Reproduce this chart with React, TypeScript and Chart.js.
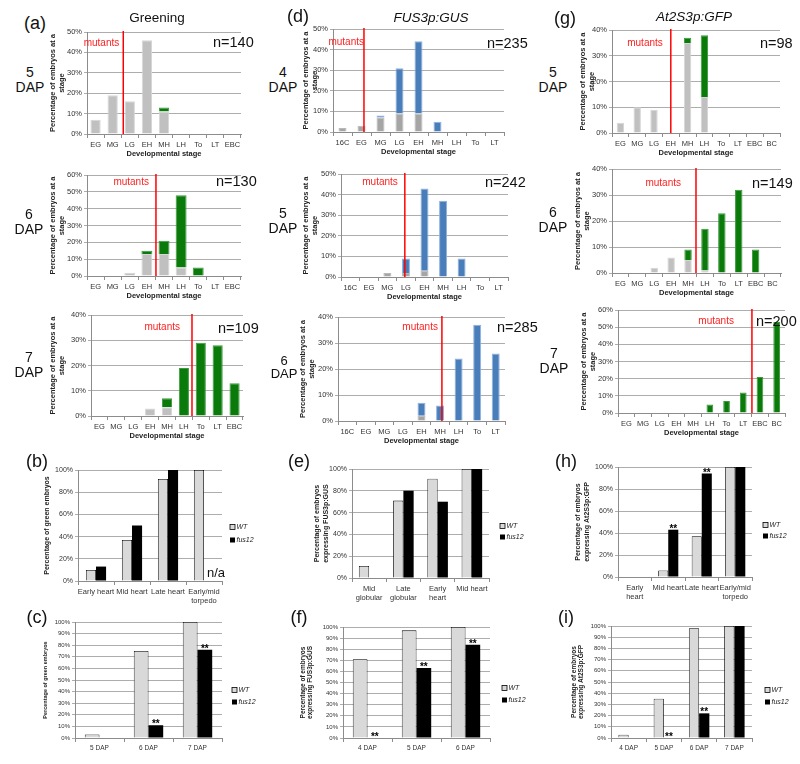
import React, { useEffect, useRef } from 'react';
import { Chart, registerables } from 'chart.js';
Chart.register(...registerables);

const FONT = "'Liberation Sans', Arial, Helvetica, sans-serif";

// ---------- categories ----------
const STAGES_A = ['EG', 'MG', 'LG', 'EH', 'MH', 'LH', 'To', 'LT', 'EBC'];
const STAGES_D = ['16C', 'EG', 'MG', 'LG', 'EH', 'MH', 'LH', 'To', 'LT'];
const STAGES_G = ['EG', 'MG', 'LG', 'EH', 'MH', 'LH', 'To', 'LT', 'EBC', 'BC'];

// ---------- (a) Greening ----------
const A5_GRAY = [7, 19, 16, 46, 11, 0, 0, 0, 0];
const A5_GREEN = [0, 0, 0, 0, 2, 0, 0, 0, 0];
const A6_GRAY = [0, 0, 2, 13, 13, 5, 0, 0, 0];
const A6_GREEN = [0, 0, 0, 2, 8, 43, 5, 0, 0];
const A7_GRAY = [0, 0, 0, 3, 3.5, 0, 0, 0, 0];
const A7_GREEN = [0, 0, 0, 0, 3.5, 19, 29, 28, 13];

// ---------- (d) FUS3p:GUS ----------
const D4_GRAY = [2, 3, 7, 9, 9, 0, 0, 0, 0];
const D4_BLUE = [0, 0, 1, 22, 35, 5, 0, 0, 0];
const D5_GRAY = [0, 0, 2, 2, 3, 0, 0, 0, 0];
const D5_BLUE = [0, 0, 0, 7, 40, 37, 9, 0, 0];
const D6_GRAY = [0, 0, 0, 0, 2, 0, 0, 0, 0];
const D6_BLUE = [0, 0, 0, 0, 5, 6, 24, 37, 26];

// ---------- (g) At2S3p:GFP ----------
const G5_GRAY = [4, 10, 9, 0, 35, 14, 0, 0, 0, 0];
const G5_GREEN = [0, 0, 0, 0, 2, 24, 0, 0, 0, 0];
const G6_GRAY = [0, 0, 2, 6, 5, 1, 0, 0, 0, 0];
const G6_GREEN = [0, 0, 0, 0, 4, 16, 23, 32, 9, 0];
const G7_GRAY = [0, 0, 0, 0, 0, 0, 0, 0, 0, 0];
const G7_GREEN = [0, 0, 0, 0, 0, 5, 7, 12, 21, 53];

// ---------- (b) (e) (h) ----------
const B_CATS: (string | string[])[] = ['Early heart', 'Mid heart', 'Late heart', ['Early/mid', 'torpedo']];
const B_WT = [10, 37, 92, 100];
const B_FUS = [13, 50, 100, null];
const E_CATS: (string | string[])[] = [['Mid', 'globular'], ['Late', 'globular'], ['Early', 'heart'], 'Mid heart'];
const E_WT = [11, 71, 91, 100];
const E_FUS = [0, 80, 70, 100];
const H_CATS: (string | string[])[] = [['Early', 'heart'], 'Mid heart', 'Late heart', ['Early/mid', 'torpedo']];
const H_WT = [0, 6, 37, 100];
const H_FUS = [0, 43, 94, 100];

// ---------- (c) (f) (i) ----------
const C_CATS = ['5 DAP', '6 DAP', '7 DAP'];
const C_WT = [3, 75, 100];
const C_FUS = [0, 11, 76];
const F_CATS = ['4 DAP', '5 DAP', '6 DAP'];
const F_WT = [71, 97, 100];
const F_FUS = [0, 63, 84];
const I_CATS = ['4 DAP', '5 DAP', '6 DAP', '7 DAP'];
const I_WT = [3, 35, 98, 100];
const I_FUS = [0, 0, 22, 100];

const SERIES_WT = 'WT';
const SERIES_FUS = 'fus12';
const MUTANT_LABEL = 'mutants';
const X_TITLE = 'Developmental stage';
const Y_TITLE_STAGE = ['Percentage of embryos at a', 'stage'];

const GRAY = '#C0C0C0';
const GRAY_D = '#A5A5A5';
const GREEN = '#0A7A0A';
const BLUE = '#4A7EBB';

type Spec = {
  kind: 'stacked' | 'grouped';
  area: [number, number, number, number];
  yW: number;
  xH: number;
  cats: (string | string[])[];
  a: (number | null)[];
  b: (number | null)[];
  colA: string;
  colB: string;
  bordA: string;
  bordB: string;
  max: number;
  bp: number;
  cp: number;
  mut?: [number, number, number];
  yTitle: string | string[];
  yTitleSize: number;
  yTickSize: number;
  xTickSize: number;
  legend?: [number, number, number];
  stars?: [number, number][];
};

const stacked = (
  area: [number, number, number, number], yW: number, cats: string[], a: number[], b: number[],
  colB: string, max: number, bp: number, mut: [number, number, number], colA = GRAY
): Spec => ({
  kind: 'stacked', area, yW, xH: 24, cats, a, b, colA, colB,
  bordA: colA === GRAY ? '#D6D6D6' : '#B8B8B8',
  bordB: colB === BLUE ? '#8FB3DE' : '#3C9A3C',
  max, bp, cp: 1, mut, yTitle: Y_TITLE_STAGE, yTitleSize: 7.5, yTickSize: 7.5, xTickSize: 7.5,
});

const grouped = (
  area: [number, number, number, number], yW: number, xH: number, cats: (string | string[])[],
  a: (number | null)[], b: (number | null)[], cp: number, yTitle: string | string[], yTitleSize: number,
  yTickSize: number, xTickSize: number, legend: [number, number, number], stars?: [number, number][]
): Spec => ({
  kind: 'grouped', area, yW, xH, cats, a, b, colA: '#D9D9D9', colB: '#000000', bordA: '#000000', bordB: '#000000',
  max: 100, bp: 1, cp, yTitle, yTitleSize, yTickSize, xTickSize, legend, stars,
});

const SPECS: Spec[] = [
  stacked([87, 32, 241, 134], 39, STAGES_A, A5_GRAY, A5_GREEN, GREEN, 50, 0.6, [1.62, 4, 11]),
  stacked([87, 175, 241, 276], 39, STAGES_A, A6_GRAY, A6_GREEN, GREEN, 60, 0.64, [3.53, 7, 7]),
  stacked([91, 315, 243, 416], 43, STAGES_A, A7_GRAY, A7_GREEN, GREEN, 40, 0.6, [5.48, 12, 12]),
  stacked([333, 29, 504, 132], 32, STAGES_D, D4_GRAY, D4_BLUE, BLUE, 50, 0.42, [1.13, 0, 13], GRAY_D),
  stacked([341, 174, 508, 277], 40, STAGES_D, D5_GRAY, D5_BLUE, BLUE, 50, 0.43, [2.94, 7, 8], GRAY_D),
  stacked([338, 317, 505, 421], 40, STAGES_D, D6_GRAY, D6_BLUE, BLUE, 40, 0.43, [5.1, 4, 10], GRAY_D),
  stacked([612, 30, 780, 133], 34, STAGES_G, G5_GRAY, G5_GREEN, GREEN, 40, 0.44, [3.0, 8, 13]),
  stacked([612, 169, 781, 273], 39, STAGES_G, G6_GRAY, G6_GREEN, GREEN, 40, 0.44, [4.47, 15, 14]),
  stacked([618, 310, 785, 413], 39, STAGES_G, G7_GRAY, G7_GREEN, GREEN, 60, 0.4, [7.52, 18, 11]),
  grouped([78, 470, 222, 581], 35, 26, B_CATS, B_WT, B_FUS, 0.56, 'Percentage of green embryos', 7, 7, 7.5, [230, 527, 13]),
  grouped([352, 469, 489, 578], 39, 26, E_CATS, E_WT, E_FUS, 0.6, ['Percentage of embryos', 'expressing FUS3p:GUS'], 7, 7, 7.5, [500, 526, 11]),
  grouped([618, 467, 752, 577], 44, 26, H_CATS, H_WT, H_FUS, 0.6, ['Percentage of embryos', 'expressing At2S3p:GFP'], 7, 7, 7.5, [763, 525, 11], [[1, 1], [1, 2]]),
  grouped([75, 622, 222, 738], 33, 18, C_CATS, C_WT, C_FUS, 0.6, 'Percentage of green embryos', 5.5, 6, 6.5, [232, 690, 12], [[1, 1], [1, 2]]),
  grouped([343, 627, 490, 738], 44, 18, F_CATS, F_WT, F_FUS, 0.6, ['Percentage of embryos', 'expressing FUS3p:GUS'], 6.5, 6, 6.5, [502, 688, 12], [[1, 0], [1, 1], [1, 2]]),
  grouped([611, 626, 752, 738], 41, 18, I_CATS, I_WT, I_FUS, 0.58, ['Percentage of embryos', 'expressing At2S3p:GFP'], 6.5, 6, 6.5, [765, 690, 12], [[1, 1], [1, 2]]),
];

type Txt = { t: string; x: number; y: number; s: number; it?: boolean; left?: boolean; lh?: number };
const TEXTS: Txt[] = [
  { t: '(a)', x: 35, y: 23, s: 18 },
  { t: 'Greening', x: 157, y: 18, s: 13.5 },
  { t: '(d)', x: 298, y: 16, s: 18 },
  { t: 'FUS3p:GUS', x: 431, y: 18, s: 13.5, it: true },
  { t: '(g)', x: 565, y: 18, s: 18 },
  { t: 'At2S3p:GFP', x: 694, y: 17, s: 13.5, it: true },
  { t: '5\nDAP', x: 30, y: 80, s: 14, lh: 15 },
  { t: '6\nDAP', x: 29, y: 222, s: 14, lh: 15 },
  { t: '7\nDAP', x: 29, y: 365, s: 14, lh: 15 },
  { t: '4\nDAP', x: 283, y: 80, s: 14, lh: 15 },
  { t: '5\nDAP', x: 283, y: 221, s: 14, lh: 15 },
  { t: '6\nDAP', x: 284, y: 367, s: 13, lh: 13 },
  { t: '5\nDAP', x: 553, y: 80, s: 14, lh: 15 },
  { t: '6\nDAP', x: 553, y: 220, s: 14, lh: 15 },
  { t: '7\nDAP', x: 554, y: 361, s: 14, lh: 15 },
  { t: 'n=140', x: 213, y: 42, s: 14.5, left: true },
  { t: 'n=130', x: 216, y: 181, s: 14.5, left: true },
  { t: 'n=109', x: 218, y: 328, s: 14.5, left: true },
  { t: 'n=235', x: 487, y: 43, s: 14.5, left: true },
  { t: 'n=242', x: 485, y: 182, s: 14.5, left: true },
  { t: 'n=285', x: 497, y: 327, s: 14.5, left: true },
  { t: 'n=98', x: 760, y: 43, s: 14.5, left: true },
  { t: 'n=149', x: 752, y: 183, s: 14.5, left: true },
  { t: 'n=200', x: 756, y: 321, s: 14.5, left: true },
  { t: '(b)', x: 37, y: 461, s: 18 },
  { t: '(e)', x: 299, y: 461, s: 18 },
  { t: '(h)', x: 566, y: 461, s: 18 },
  { t: '(c)', x: 37, y: 617, s: 18 },
  { t: '(f)', x: 299, y: 617, s: 18 },
  { t: '(i)', x: 566, y: 617, s: 18 },
  { t: 'n/a', x: 216, y: 573, s: 13 },
];

function ChartBox({ spec }: { spec: Spec }) {
  const ref = useRef<HTMLCanvasElement>(null);
  const [l, t, r, b] = spec.area;
  const x0 = l - spec.yW - 2;
  const y0 = t - 16;
  const rightExtra = spec.kind === 'stacked' ? 14 : 46;
  const w = r - x0 + rightExtra;
  const h = b - y0 + spec.xH + 2;

  useEffect(() => {
    const decor = {
      id: 'decor',
      afterDatasetsDraw(chart: any) {
        const ctx = chart.ctx;
        const ca = chart.chartArea;
        ctx.save();
        if (spec.mut) {
          const [at, dx, ty] = spec.mut;
          const x = chart.scales.x.getPixelForValue(at);
          ctx.strokeStyle = '#FF0000';
          ctx.lineWidth = 1.5;
          ctx.beginPath();
          ctx.moveTo(x, ca.top - 1);
          ctx.lineTo(x, ca.bottom);
          ctx.stroke();
          ctx.fillStyle = '#FF1F1F';
          ctx.font = `10px ${FONT}`;
          ctx.textAlign = 'right';
          ctx.textBaseline = 'middle';
          ctx.fillText(MUTANT_LABEL, x - dx, ca.top + ty);
        }
        if (spec.stars) {
          ctx.fillStyle = '#000';
          ctx.font = `bold 10px ${FONT}`;
          ctx.textAlign = 'center';
          ctx.textBaseline = 'alphabetic';
          for (const [d, i] of spec.stars) {
            const el = chart.getDatasetMeta(d).data[i];
            if (el) ctx.fillText('**', el.x, el.y + 2);
          }
        }
        if (spec.legend) {
          const [lx, ly, gap] = spec.legend;
          const x = lx - x0;
          const y = ly - y0;
          const ds = chart.data.datasets;
          ctx.lineWidth = 0.8;
          ctx.fillStyle = '#D9D9D9';
          ctx.fillRect(x, y - 2.5, 5, 5);
          ctx.strokeStyle = '#000';
          ctx.strokeRect(x, y - 2.5, 5, 5);
          ctx.fillStyle = '#000';
          ctx.fillRect(x, y + gap - 2.5, 5, 5);
          ctx.fillStyle = '#222';
          ctx.font = `italic 7px ${FONT}`;
          ctx.textAlign = 'left';
          ctx.textBaseline = 'middle';
          ctx.fillText(ds[0].label, x + 6.5, y);
          ctx.fillText(ds[1].label, x + 6.5, y + gap);
        }
        ctx.restore();
      },
    };

    const isStacked = spec.kind === 'stacked';
    const chart = new Chart(ref.current as HTMLCanvasElement, {
      type: 'bar',
      data: {
        labels: spec.cats as any,
        datasets: [
          {
            label: isStacked ? 'lower' : SERIES_WT,
            data: spec.a as any,
            backgroundColor: spec.colA,
            borderColor: spec.bordA,
            borderWidth: isStacked ? 1 : 0.8,
            barPercentage: spec.bp,
            categoryPercentage: spec.cp,
          },
          {
            label: isStacked ? 'upper' : SERIES_FUS,
            data: spec.b as any,
            backgroundColor: spec.colB,
            borderColor: spec.bordB,
            borderWidth: isStacked ? 1 : 0,
            barPercentage: spec.bp,
            categoryPercentage: spec.cp,
          },
        ],
      },
      options: {
        responsive: false,
        animation: false,
        events: [],
        layout: {
          autoPadding: false,
          padding: { left: 2, top: 16, right: rightExtra, bottom: 2 },
        } as any,
        plugins: { legend: { display: false }, tooltip: { enabled: false } },
        scales: {
          x: {
            stacked: isStacked,
            grid: { drawOnChartArea: false, drawTicks: true, tickLength: 4, color: '#8C8C8C' },
            border: { display: true, color: '#8C8C8C' },
            ticks: {
              font: { family: FONT, size: spec.xTickSize },
              color: '#333',
              padding: 2,
              autoSkip: false,
              maxRotation: 0,
              minRotation: 0,
            },
            title: {
              display: isStacked,
              text: X_TITLE,
              font: { family: FONT, size: 7.5, weight: 'bold' },
              color: '#222',
              padding: { top: 0, bottom: 0 },
            },
            afterFit: (sc: any) => {
              sc.height = spec.xH;
            },
          } as any,
          y: {
            stacked: isStacked,
            min: 0,
            max: spec.max,
            ticks: {
              stepSize: 10,
              callback: (v: any) => v + '%',
              font: { family: FONT, size: spec.yTickSize },
              color: '#333',
              padding: 2,
            },
            grid: { color: '#ADADAD', tickLength: 3, drawTicks: true },
            border: { display: true, color: '#8C8C8C' },
            title: {
              display: true,
              text: spec.yTitle,
              font: { family: FONT, size: spec.yTitleSize, weight: 'bold' },
              color: '#222',
              padding: { top: 0, bottom: 0 },
            },
            afterFit: (sc: any) => {
              sc.width = spec.yW;
            },
          } as any,
        },
      },
      plugins: [decor],
    });
    return () => chart.destroy();
  }, []);

  return (
    <canvas
      ref={ref}
      width={w}
      height={h}
      style={{ position: 'absolute', left: x0, top: y0, width: w, height: h }}
    />
  );
}

export default function App() {
  useEffect(() => {
    document.body.style.margin = '0';
  }, []);
  return (
    <div
      style={{
        position: 'absolute',
        left: 0,
        top: 0,
        width: 800,
        height: 764,
        background: '#fff',
        overflow: 'hidden',
        fontFamily: FONT,
        color: '#111',
      }}
    >
      {SPECS.map((s, i) => (
        <ChartBox key={i} spec={s} />
      ))}
      {TEXTS.map((tx, i) => (
        <div
          key={'t' + i}
          style={{
            position: 'absolute',
            left: tx.x,
            top: tx.y,
            transform: tx.left ? 'translate(0,-50%)' : 'translate(-50%,-50%)',
            fontSize: tx.s,
            fontStyle: tx.it ? 'italic' : 'normal',
            whiteSpace: 'pre',
            textAlign: 'center',
            lineHeight: (tx.lh || tx.s * 1.15) + 'px',
          }}
        >
          {tx.t}
        </div>
      ))}
    </div>
  );
}
